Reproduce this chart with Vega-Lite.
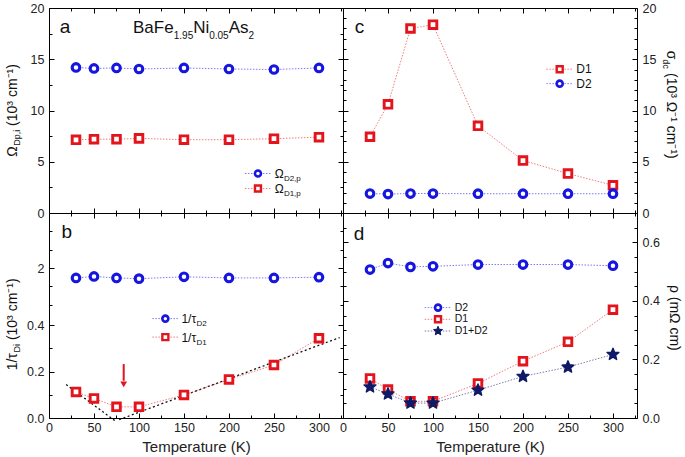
{
  "$schema": "https://vega.github.io/schema/vega-lite/v6.json",
  "background": "white",
  "padding": {"left": 5, "top": 1, "right": 5, "bottom": 3},
  "config": {
    "font": "Liberation Sans",
    "view": {"stroke": "#000", "strokeWidth": 1},
    "axis": {"domain": false, "grid": false, "labelFont": "Liberation Sans", "labelFontSize": 12.5, "labelColor": "#222", "tickColor": "#000", "tickWidth": 1, "labelFlush": false, "labelOverlap": false, "labelBound": false, "titleFont": "Liberation Sans", "titleFontWeight": "normal", "titleFontSize": 15, "titleColor": "#222"}
  },
  "datasets": {
    "omega": [
      {"T": 30, "series": "D2", "value": 14.2}, {"T": 50, "series": "D2", "value": 14.1}, {"T": 75, "series": "D2", "value": 14.15}, {"T": 100, "series": "D2", "value": 14.05},
      {"T": 150, "series": "D2", "value": 14.15}, {"T": 200, "series": "D2", "value": 14.05}, {"T": 250, "series": "D2", "value": 14.0}, {"T": 300, "series": "D2", "value": 14.15},
      {"T": 30, "series": "D1", "value": 7.14}, {"T": 50, "series": "D1", "value": 7.2}, {"T": 75, "series": "D1", "value": 7.2}, {"T": 100, "series": "D1", "value": 7.28},
      {"T": 150, "series": "D1", "value": 7.15}, {"T": 200, "series": "D1", "value": 7.15}, {"T": 250, "series": "D1", "value": 7.25}, {"T": 300, "series": "D1", "value": 7.4}
    ],
    "tau": [
      {"T": 30, "series": "D2", "value": 1.73}, {"T": 50, "series": "D2", "value": 1.77}, {"T": 75, "series": "D2", "value": 1.73}, {"T": 100, "series": "D2", "value": 1.71},
      {"T": 150, "series": "D2", "value": 1.76}, {"T": 200, "series": "D2", "value": 1.73}, {"T": 250, "series": "D2", "value": 1.73}, {"T": 300, "series": "D2", "value": 1.75},
      {"T": 30, "series": "D1", "value": 0.112}, {"T": 50, "series": "D1", "value": 0.084}, {"T": 75, "series": "D1", "value": 0.048}, {"T": 100, "series": "D1", "value": 0.048},
      {"T": 150, "series": "D1", "value": 0.099}, {"T": 200, "series": "D1", "value": 0.166}, {"T": 250, "series": "D1", "value": 0.228}, {"T": 300, "series": "D1", "value": 0.343}
    ],
    "sigma": [
      {"T": 30, "series": "D1", "value": 7.44}, {"T": 50, "series": "D1", "value": 10.6}, {"T": 75, "series": "D1", "value": 18.0}, {"T": 100, "series": "D1", "value": 18.37},
      {"T": 150, "series": "D1", "value": 8.51}, {"T": 200, "series": "D1", "value": 5.12}, {"T": 250, "series": "D1", "value": 3.85}, {"T": 300, "series": "D1", "value": 2.7},
      {"T": 30, "series": "D2", "value": 1.9}, {"T": 50, "series": "D2", "value": 1.85}, {"T": 75, "series": "D2", "value": 1.9}, {"T": 100, "series": "D2", "value": 1.9},
      {"T": 150, "series": "D2", "value": 1.88}, {"T": 200, "series": "D2", "value": 1.88}, {"T": 250, "series": "D2", "value": 1.88}, {"T": 300, "series": "D2", "value": 1.88}
    ],
    "rho": [
      {"T": 30, "series": "D2", "value": 0.507}, {"T": 50, "series": "D2", "value": 0.529}, {"T": 75, "series": "D2", "value": 0.516}, {"T": 100, "series": "D2", "value": 0.518},
      {"T": 150, "series": "D2", "value": 0.524}, {"T": 200, "series": "D2", "value": 0.524}, {"T": 250, "series": "D2", "value": 0.524}, {"T": 300, "series": "D2", "value": 0.52},
      {"T": 30, "series": "D1", "value": 0.135}, {"T": 50, "series": "D1", "value": 0.097}, {"T": 75, "series": "D1", "value": 0.057}, {"T": 100, "series": "D1", "value": 0.057},
      {"T": 150, "series": "D1", "value": 0.118}, {"T": 200, "series": "D1", "value": 0.194}, {"T": 250, "series": "D1", "value": 0.26}, {"T": 300, "series": "D1", "value": 0.37},
      {"T": 30, "series": "D1+D2", "value": 0.106}, {"T": 50, "series": "D1+D2", "value": 0.082}, {"T": 75, "series": "D1+D2", "value": 0.051}, {"T": 100, "series": "D1+D2", "value": 0.051},
      {"T": 150, "series": "D1+D2", "value": 0.095}, {"T": 200, "series": "D1+D2", "value": 0.142}, {"T": 250, "series": "D1+D2", "value": 0.174}, {"T": 300, "series": "D1+D2", "value": 0.217}
    ],
    "fit": [
      {"seg": "low", "T": 19, "value": 0.144}, {"seg": "low", "T": 73, "value": -0.011},
      {"seg": "high", "T": 78, "value": -0.007}, {"seg": "high", "T": 323, "value": 0.346}
    ],
    "arrow": [{"T": 83, "value": 0.232, "value2": 0.16}],
    "arrowhead": [{"T": 83, "value": 0.145}],
    "legA": [
      {"series": "D2", "T": 232.2, "T1": 217.7, "T2": 247.4, "value": 3.855},
      {"series": "D1", "T": 232.2, "T1": 217.7, "T2": 247.4, "value": 2.387}
    ],
    "legB": [
      {"series": "D2", "T": 129.3, "T1": 114.9, "T2": 143.3, "value": 0.4275},
      {"series": "D1", "T": 129.3, "T1": 114.9, "T2": 143.3, "value": 0.348}
    ],
    "legC": [
      {"series": "D1", "T": 240.8, "T1": 226, "T2": 255.6, "value": 14.03},
      {"series": "D2", "T": 240.8, "T1": 226, "T2": 255.6, "value": 12.62}
    ],
    "legD": [
      {"series": "D2", "T": 105.6, "T1": 90.8, "T2": 120.4, "value": 0.377},
      {"series": "D1", "T": 105.6, "T1": 90.8, "T2": 120.4, "value": 0.337},
      {"series": "D1+D2", "T": 105.6, "T1": 90.8, "T2": 120.4, "value": 0.297}
    ],
    "ann": [
      {"panel": "a", "kind": "tmain", "T": 93.3, "value": 17.6, "txt": "BaFe"},
      {"panel": "a", "kind": "tmain", "T": 160.2, "value": 17.6, "txt": "Ni"},
      {"panel": "a", "kind": "tmain", "T": 199.7, "value": 17.6, "txt": "As"},
      {"panel": "a", "kind": "tsub", "T": 138.6, "value": 16.97, "txt": "1.95"},
      {"panel": "a", "kind": "tsub", "T": 178, "value": 16.97, "txt": "0.05"},
      {"panel": "a", "kind": "tsub", "T": 221.7, "value": 16.97, "txt": "2"},
      {"panel": "a", "kind": "letter", "T": 11.9, "value": 17.6, "txt": "a"},
      {"panel": "a", "kind": "lmain", "T": 250.8, "value": 3.855, "txt": "Ω"},
      {"panel": "a", "kind": "lmain", "T": 250.8, "value": 2.387, "txt": "Ω"},
      {"panel": "a", "kind": "lsub", "T": 261, "value": 3.855, "txt": "D2,p"},
      {"panel": "a", "kind": "lsub", "T": 261, "value": 2.387, "txt": "D1,p"},
      {"panel": "a", "kind": "ymain", "T": -35.9, "value": 5.5, "txt": "Ω"},
      {"panel": "a", "kind": "ymain", "T": -35.9, "value": 8.5, "txt": "(10³ cm⁻¹)"},
      {"panel": "a", "kind": "ysub", "T": -32.6, "value": 6.56, "txt": "Dp,i"},
      {"panel": "b", "kind": "letter", "T": 13.8, "value": 2.82, "txt": "b"},
      {"panel": "b", "kind": "lmain", "T": 147.1, "value": 0.4275, "txt": "1/τ"},
      {"panel": "b", "kind": "lmain", "T": 147.1, "value": 0.348, "txt": "1/τ"},
      {"panel": "b", "kind": "lsub", "T": 164.0, "value": 0.4275, "txt": "D2"},
      {"panel": "b", "kind": "lsub", "T": 164.0, "value": 0.348, "txt": "D1"},
      {"panel": "b", "kind": "ymain", "T": -35.9, "value": 0.205, "txt": "1/τ"},
      {"panel": "b", "kind": "ymain", "T": -35.9, "value": 0.335, "txt": "(10³ cm⁻¹)"},
      {"panel": "b", "kind": "ysub", "T": -32.6, "value": 0.282, "txt": "Di"},
      {"panel": "c", "kind": "letter", "T": 13, "value": 17.6, "txt": "c"},
      {"panel": "c", "kind": "ltext", "T": 259.3, "value": 14.03, "txt": "D1"},
      {"panel": "c", "kind": "ltext", "T": 259.3, "value": 12.62, "txt": "D2"},
      {"panel": "c", "kind": "ymain", "T": 359.7, "value": 15.82, "txt": "σ"},
      {"panel": "c", "kind": "ymain", "T": 359.7, "value": 13.66, "txt": "(10³ Ω⁻¹ cm⁻¹)"},
      {"panel": "c", "kind": "ysub", "T": 356, "value": 15.0, "txt": "dc"},
      {"panel": "d", "kind": "letter", "T": 11.9, "value": 0.609, "txt": "d"},
      {"panel": "d", "kind": "ltext", "T": 124.1, "value": 0.377, "txt": "D2"},
      {"panel": "d", "kind": "ltext", "T": 124.1, "value": 0.337, "txt": "D1"},
      {"panel": "d", "kind": "ltext", "T": 124.1, "value": 0.297, "txt": "D1+D2"},
      {"panel": "d", "kind": "ycenter", "T": 363, "value": 0.342, "txt": "ρ (mΩ cm)"}
    ]
  },
  "columns": 2,
  "spacing": 0,
  "bounds": "flush",
  "concat": [
    {
      "width": 294, "height": 205,
      "encoding": {
        "x": {"field": "T", "type": "quantitative", "scale": {"domain": [0, 326.7], "nice": false, "zero": false}, "axis": null},
        "y": {"field": "value", "type": "quantitative", "scale": {"domain": [0, 20], "nice": false, "zero": false}, "axis": null}
      },
      "layer": [
        {"data": {"name": "omega"}, "mark": {"type": "line", "strokeWidth": 0.8, "strokeDash": [1.5, 1.5], "opacity": 0.7},
         "encoding": {
           "x": {"field": "T", "type": "quantitative", "scale": {"domain": [0, 326.7], "nice": false, "zero": false},
                 "axis": {"orient": "bottom", "values": [0,25,50,75,100,125,150,175,200,225,250,275,300,325], "labels": false, "title": null, "tickSize": {"condition": {"test": "datum.value % 50 == 0", "value": -5}, "value": -3}}},
           "y": {"field": "value", "type": "quantitative", "scale": {"domain": [0, 20], "nice": false, "zero": false},
                 "axis": {"orient": "left", "values": [0,2.5,5,7.5,10,12.5,15,17.5,20], "format": "d", "labelExpr": "datum.value % 5 == 0 ? datum.label : ''", "labelPadding": 10, "title": null, "tickSize": {"condition": {"test": "datum.value % 5 == 0", "value": -5}, "value": -3}}},
           "color": {"field": "series", "type": "nominal", "scale": {"domain": ["D1", "D2", "D1+D2"], "range": ["#e3141b", "#1616e0", "#0e1a66"]}, "legend": null}
         }},
        {"data": {"name": "omega"}, "transform": [{"filter": "datum.series == 'D1'"}],
         "mark": {"type": "point", "shape": "square", "filled": true, "fill": "white", "stroke": "#e3141b", "strokeWidth": 2.9, "size": 58, "opacity": 1}},
        {"data": {"name": "omega"}, "transform": [{"filter": "datum.series == 'D2'"}],
         "mark": {"type": "point", "shape": "circle", "filled": true, "fill": "white", "stroke": "#1616e0", "strokeWidth": 3.1, "size": 58, "opacity": 1},
         "encoding": {
           "x": {"field": "T", "type": "quantitative", "scale": {"domain": [0, 326.7], "nice": false, "zero": false},
                 "axis": {"orient": "top", "values": [0,25,50,75,100,125,150,175,200,225,250,275,300,325], "labels": false, "title": null, "tickSize": {"condition": {"test": "datum.value % 50 == 0", "value": -5}, "value": -3}}},
           "y": {"field": "value", "type": "quantitative", "scale": {"domain": [0, 20], "nice": false, "zero": false},
                 "axis": {"orient": "right", "values": [0,2.5,5,7.5,10,12.5,15,17.5,20], "labels": false, "title": null, "tickSize": {"condition": {"test": "datum.value % 5 == 0", "value": -5}, "value": -3}}}
         }},
        {"data": {"name": "legA"}, "mark": {"type": "rule", "strokeWidth": 0.8, "strokeDash": [1.5, 1.5], "opacity": 0.7},
         "encoding": {"x": {"field": "T1", "type": "quantitative", "scale": {"domain": [0, 326.7], "nice": false, "zero": false}, "axis": null}, "x2": {"field": "T2"},
                      "color": {"field": "series", "type": "nominal", "scale": {"domain": ["D1", "D2", "D1+D2"], "range": ["#e3141b", "#1616e0", "#0e1a66"]}, "legend": null}}},
        {"data": {"name": "legA"}, "transform": [{"filter": "datum.series == 'D1'"}],
         "mark": {"type": "point", "shape": "square", "filled": true, "fill": "white", "stroke": "#e3141b", "strokeWidth": 2.4, "size": 36, "opacity": 1}},
        {"data": {"name": "legA"}, "transform": [{"filter": "datum.series == 'D2'"}],
         "mark": {"type": "point", "shape": "circle", "filled": true, "fill": "white", "stroke": "#1616e0", "strokeWidth": 2.6, "size": 36, "opacity": 1}},
        {"data": {"name": "ann"}, "transform": [{"filter": "datum.panel == 'a' && datum.kind == 'tmain'"}],
         "mark": {"type": "text", "fontSize": 17, "align": "left", "baseline": "alphabetic", "color": "#111"}, "encoding": {"text": {"field": "txt"}}},
        {"data": {"name": "ann"}, "transform": [{"filter": "datum.panel == 'a' && datum.kind == 'tsub'"}],
         "mark": {"type": "text", "fontSize": 10, "align": "left", "baseline": "alphabetic", "color": "#111"}, "encoding": {"text": {"field": "txt"}}},
        {"data": {"name": "ann"}, "transform": [{"filter": "datum.panel == 'a' && datum.kind == 'letter'"}],
         "mark": {"type": "text", "fontSize": 19, "align": "left", "baseline": "alphabetic", "color": "#111"}, "encoding": {"text": {"field": "txt"}}},
        {"data": {"name": "ann"}, "transform": [{"filter": "datum.panel == 'a' && datum.kind == 'lmain'"}],
         "mark": {"type": "text", "fontSize": 12, "align": "left", "baseline": "alphabetic", "dy": 4.5, "color": "#111"}, "encoding": {"text": {"field": "txt"}}},
        {"data": {"name": "ann"}, "transform": [{"filter": "datum.panel == 'a' && datum.kind == 'lsub'"}],
         "mark": {"type": "text", "fontSize": 8, "align": "left", "baseline": "alphabetic", "dy": 7.5, "color": "#111"}, "encoding": {"text": {"field": "txt"}}},
        {"data": {"name": "ann"}, "transform": [{"filter": "datum.panel == 'a' && datum.kind == 'ymain'"}],
         "mark": {"type": "text", "fontSize": 14, "angle": 270, "align": "left", "baseline": "alphabetic", "color": "#111"}, "encoding": {"text": {"field": "txt"}}},
        {"data": {"name": "ann"}, "transform": [{"filter": "datum.panel == 'a' && datum.kind == 'ysub'"}],
         "mark": {"type": "text", "fontSize": 9, "angle": 270, "align": "left", "baseline": "alphabetic", "color": "#111"}, "encoding": {"text": {"field": "txt"}}}
      ],
      "resolve": {"axis": {"x": "independent", "y": "independent"}}
    },
    {
      "width": 294, "height": 205,
      "encoding": {
        "x": {"field": "T", "type": "quantitative", "scale": {"domain": [0, 326.7], "nice": false, "zero": false}, "axis": null},
        "y": {"field": "value", "type": "quantitative", "scale": {"domain": [0, 20], "nice": false, "zero": false}, "axis": null}
      },
      "layer": [
        {"data": {"name": "sigma"}, "mark": {"type": "line", "strokeWidth": 0.8, "strokeDash": [1.5, 1.5], "opacity": 0.7},
         "encoding": {
           "x": {"field": "T", "type": "quantitative", "scale": {"domain": [0, 326.7], "nice": false, "zero": false},
                 "axis": {"orient": "bottom", "values": [0,25,50,75,100,125,150,175,200,225,250,275,300,325], "labels": false, "title": null, "tickSize": {"condition": {"test": "datum.value % 50 == 0", "value": -5}, "value": -3}}},
           "y": {"field": "value", "type": "quantitative", "scale": {"domain": [0, 20], "nice": false, "zero": false},
                 "axis": {"orient": "right", "values": [0,1,2,3,4,5,6,7,8,9,10,11,12,13,14,15,16,17,18,19,20], "format": "d", "labelExpr": "datum.value % 5 == 0 ? datum.label : ''", "labelPadding": 10, "title": null, "tickSize": {"condition": {"test": "datum.value % 5 == 0", "value": -5}, "value": -3}}},
           "color": {"field": "series", "type": "nominal", "scale": {"domain": ["D1", "D2", "D1+D2"], "range": ["#e3141b", "#1616e0", "#0e1a66"]}, "legend": null}
         }},
        {"data": {"name": "sigma"}, "transform": [{"filter": "datum.series == 'D1'"}],
         "mark": {"type": "point", "shape": "square", "filled": true, "fill": "white", "stroke": "#e3141b", "strokeWidth": 2.9, "size": 58, "opacity": 1}},
        {"data": {"name": "sigma"}, "transform": [{"filter": "datum.series == 'D2'"}],
         "mark": {"type": "point", "shape": "circle", "filled": true, "fill": "white", "stroke": "#1616e0", "strokeWidth": 3.1, "size": 58, "opacity": 1},
         "encoding": {
           "x": {"field": "T", "type": "quantitative", "scale": {"domain": [0, 326.7], "nice": false, "zero": false},
                 "axis": {"orient": "top", "values": [0,25,50,75,100,125,150,175,200,225,250,275,300,325], "labels": false, "title": null, "tickSize": {"condition": {"test": "datum.value % 50 == 0", "value": -5}, "value": -3}}},
           "y": {"field": "value", "type": "quantitative", "scale": {"domain": [0, 20], "nice": false, "zero": false},
                 "axis": {"orient": "left", "values": [0,1,2,3,4,5,6,7,8,9,10,11,12,13,14,15,16,17,18,19,20], "labels": false, "title": null, "tickSize": {"condition": {"test": "datum.value % 5 == 0", "value": -5}, "value": -3}}}
         }},
        {"data": {"name": "legC"}, "mark": {"type": "rule", "strokeWidth": 0.8, "strokeDash": [1.5, 1.5], "opacity": 0.7},
         "encoding": {"x": {"field": "T1", "type": "quantitative", "scale": {"domain": [0, 326.7], "nice": false, "zero": false}, "axis": null}, "x2": {"field": "T2"},
                      "color": {"field": "series", "type": "nominal", "scale": {"domain": ["D1", "D2", "D1+D2"], "range": ["#e3141b", "#1616e0", "#0e1a66"]}, "legend": null}}},
        {"data": {"name": "legC"}, "transform": [{"filter": "datum.series == 'D1'"}],
         "mark": {"type": "point", "shape": "square", "filled": true, "fill": "white", "stroke": "#e3141b", "strokeWidth": 2.4, "size": 36, "opacity": 1}},
        {"data": {"name": "legC"}, "transform": [{"filter": "datum.series == 'D2'"}],
         "mark": {"type": "point", "shape": "circle", "filled": true, "fill": "white", "stroke": "#1616e0", "strokeWidth": 2.6, "size": 36, "opacity": 1}},
        {"data": {"name": "ann"}, "transform": [{"filter": "datum.panel == 'c' && datum.kind == 'letter'"}],
         "mark": {"type": "text", "fontSize": 19, "align": "left", "baseline": "alphabetic", "color": "#111"}, "encoding": {"text": {"field": "txt"}}},
        {"data": {"name": "ann"}, "transform": [{"filter": "datum.panel == 'c' && datum.kind == 'ltext'"}],
         "mark": {"type": "text", "fontSize": 12, "align": "left", "baseline": "middle", "color": "#111"}, "encoding": {"text": {"field": "txt"}}},
        {"data": {"name": "ann"}, "transform": [{"filter": "datum.panel == 'c' && datum.kind == 'ymain'"}],
         "mark": {"type": "text", "fontSize": 14, "angle": 90, "align": "left", "baseline": "alphabetic", "color": "#111"}, "encoding": {"text": {"field": "txt"}}},
        {"data": {"name": "ann"}, "transform": [{"filter": "datum.panel == 'c' && datum.kind == 'ysub'"}],
         "mark": {"type": "text", "fontSize": 9, "angle": 90, "align": "left", "baseline": "alphabetic", "color": "#111"}, "encoding": {"text": {"field": "txt"}}}
      ],
      "resolve": {"axis": {"x": "independent", "y": "independent"}}
    },
    {
      "width": 294, "height": 205,
      "encoding": {
        "x": {"field": "T", "type": "quantitative", "scale": {"domain": [0, 326.7], "nice": false, "zero": false}, "axis": null},
        "y": {"field": "value", "type": "quantitative", "scale": {"domain": [0, 0.44, 1.0, 3.5], "range": [205, 102.7, 91.7, 0], "nice": false, "zero": false}, "axis": null}
      },
      "layer": [
        {"data": {"name": "fit"}, "mark": {"type": "line", "color": "#111", "strokeWidth": 1.3, "strokeDash": [2, 2.5]},
         "encoding": {"detail": {"field": "seg"}}},
        {"data": {"name": "tau"}, "mark": {"type": "line", "strokeWidth": 0.8, "strokeDash": [1.5, 1.5], "opacity": 0.7},
         "encoding": {
           "x": {"field": "T", "type": "quantitative", "scale": {"domain": [0, 326.7], "nice": false, "zero": false},
                 "axis": {"orient": "bottom", "values": [0,25,50,75,100,125,150,175,200,225,250,275,300,325], "format": "d", "labelExpr": "datum.value % 50 == 0 ? datum.label : ''", "labelPadding": 8, "title": "Temperature (K)", "titlePadding": 4, "tickSize": {"condition": {"test": "datum.value % 50 == 0", "value": -5}, "value": -3}}},
           "y": {"field": "value", "type": "quantitative", "scale": {"domain": [0, 0.44, 1.0, 3.5], "range": [205, 102.7, 91.7, 0], "nice": false, "zero": false},
                 "axis": {"orient": "left", "values": [0,0.1,0.2,0.3,0.4,1,1.5,2,2.5,3], "labelExpr": "datum.value == 2 ? '2' : ((datum.value < 0.5 && round(datum.value*10) % 2 == 0) ? format(datum.value, '.1f') : '')", "labelPadding": 10, "title": null, "tickSize": {"condition": {"test": "datum.value == 2 || (datum.value < 0.5 && round(datum.value*10) % 2 == 0)", "value": -5}, "value": -3}}},
           "color": {"field": "series", "type": "nominal", "scale": {"domain": ["D1", "D2", "D1+D2"], "range": ["#e3141b", "#1616e0", "#0e1a66"]}, "legend": null}
         }},
        {"data": {"name": "tau"}, "transform": [{"filter": "datum.series == 'D1'"}],
         "mark": {"type": "point", "shape": "square", "filled": true, "fill": "white", "stroke": "#e3141b", "strokeWidth": 2.9, "size": 58, "opacity": 1}},
        {"data": {"name": "tau"}, "transform": [{"filter": "datum.series == 'D2'"}],
         "mark": {"type": "point", "shape": "circle", "filled": true, "fill": "white", "stroke": "#1616e0", "strokeWidth": 3.1, "size": 58, "opacity": 1},
         "encoding": {
           "x": {"field": "T", "type": "quantitative", "scale": {"domain": [0, 326.7], "nice": false, "zero": false},
                 "axis": {"orient": "top", "values": [0,25,50,75,100,125,150,175,200,225,250,275,300,325], "labels": false, "title": null, "tickSize": {"condition": {"test": "datum.value % 50 == 0", "value": -5}, "value": -3}}},
           "y": {"field": "value", "type": "quantitative", "scale": {"domain": [0, 0.44, 1.0, 3.5], "range": [205, 102.7, 91.7, 0], "nice": false, "zero": false},
                 "axis": {"orient": "right", "values": [0,0.1,0.2,0.3,0.4,1,1.5,2,2.5,3], "labels": false, "title": null, "tickSize": {"condition": {"test": "datum.value == 2 || (datum.value < 0.5 && round(datum.value*10) % 2 == 0)", "value": -5}, "value": -3}}}
         }},
        {"data": {"name": "arrow"}, "mark": {"type": "rule", "color": "#e3141b", "strokeWidth": 2},
         "encoding": {"y2": {"field": "value2"}}},
        {"data": {"name": "arrowhead"}, "mark": {"type": "point", "shape": "triangle-down", "filled": true, "color": "#e3141b", "size": 45, "opacity": 1}},
        {"data": {"name": "legB"}, "mark": {"type": "rule", "strokeWidth": 0.8, "strokeDash": [1.5, 1.5], "opacity": 0.7},
         "encoding": {"x": {"field": "T1", "type": "quantitative", "scale": {"domain": [0, 326.7], "nice": false, "zero": false}, "axis": null}, "x2": {"field": "T2"},
                      "color": {"field": "series", "type": "nominal", "scale": {"domain": ["D1", "D2", "D1+D2"], "range": ["#e3141b", "#1616e0", "#0e1a66"]}, "legend": null}}},
        {"data": {"name": "legB"}, "transform": [{"filter": "datum.series == 'D1'"}],
         "mark": {"type": "point", "shape": "square", "filled": true, "fill": "white", "stroke": "#e3141b", "strokeWidth": 2.4, "size": 36, "opacity": 1}},
        {"data": {"name": "legB"}, "transform": [{"filter": "datum.series == 'D2'"}],
         "mark": {"type": "point", "shape": "circle", "filled": true, "fill": "white", "stroke": "#1616e0", "strokeWidth": 2.6, "size": 36, "opacity": 1}},
        {"data": {"name": "ann"}, "transform": [{"filter": "datum.panel == 'b' && datum.kind == 'letter'"}],
         "mark": {"type": "text", "fontSize": 19, "align": "left", "baseline": "alphabetic", "color": "#111"}, "encoding": {"text": {"field": "txt"}}},
        {"data": {"name": "ann"}, "transform": [{"filter": "datum.panel == 'b' && datum.kind == 'lmain'"}],
         "mark": {"type": "text", "fontSize": 12, "align": "left", "baseline": "alphabetic", "dy": 4.5, "color": "#111"}, "encoding": {"text": {"field": "txt"}}},
        {"data": {"name": "ann"}, "transform": [{"filter": "datum.panel == 'b' && datum.kind == 'lsub'"}],
         "mark": {"type": "text", "fontSize": 8, "align": "left", "baseline": "alphabetic", "dy": 7.5, "color": "#111"}, "encoding": {"text": {"field": "txt"}}},
        {"data": {"name": "ann"}, "transform": [{"filter": "datum.panel == 'b' && datum.kind == 'ymain'"}],
         "mark": {"type": "text", "fontSize": 14, "angle": 270, "align": "left", "baseline": "alphabetic", "color": "#111"}, "encoding": {"text": {"field": "txt"}}},
        {"data": {"name": "ann"}, "transform": [{"filter": "datum.panel == 'b' && datum.kind == 'ysub'"}],
         "mark": {"type": "text", "fontSize": 9, "angle": 270, "align": "left", "baseline": "alphabetic", "color": "#111"}, "encoding": {"text": {"field": "txt"}}}
      ],
      "resolve": {"axis": {"x": "independent", "y": "independent"}}
    },
    {
      "width": 294, "height": 205,
      "encoding": {
        "x": {"field": "T", "type": "quantitative", "scale": {"domain": [0, 326.7], "nice": false, "zero": false}, "axis": null},
        "y": {"field": "value", "type": "quantitative", "scale": {"domain": [0, 0.7], "nice": false, "zero": false}, "axis": null}
      },
      "layer": [
        {"data": {"name": "rho"}, "mark": {"type": "line", "strokeWidth": 0.8, "strokeDash": [1.5, 1.5], "opacity": 0.7},
         "encoding": {
           "x": {"field": "T", "type": "quantitative", "scale": {"domain": [0, 326.7], "nice": false, "zero": false},
                 "axis": {"orient": "bottom", "values": [0,25,50,75,100,125,150,175,200,225,250,275,300,325], "format": "d", "labelExpr": "datum.value % 50 == 0 ? datum.label : ''", "labelPadding": 8, "title": "Temperature (K)", "titlePadding": 4, "tickSize": {"condition": {"test": "datum.value % 50 == 0", "value": -5}, "value": -3}}},
           "y": {"field": "value", "type": "quantitative", "scale": {"domain": [0, 0.7], "nice": false, "zero": false},
                 "axis": {"orient": "right", "values": [0,0.05,0.1,0.15,0.2,0.25,0.3,0.35,0.4,0.45,0.5,0.55,0.6,0.65,0.7], "format": ".1f", "labelExpr": "round(datum.value*100) % 20 == 0 ? datum.label : ''", "labelPadding": 10, "title": null, "tickSize": {"condition": {"test": "round(datum.value*100) % 20 == 0", "value": -5}, "value": -3}}},
           "color": {"field": "series", "type": "nominal", "scale": {"domain": ["D1", "D2", "D1+D2"], "range": ["#e3141b", "#1616e0", "#0e1a66"]}, "legend": null}
         }},
        {"data": {"name": "rho"}, "transform": [{"filter": "datum.series == 'D1'"}],
         "mark": {"type": "point", "shape": "square", "filled": true, "fill": "white", "stroke": "#e3141b", "strokeWidth": 2.9, "size": 58, "opacity": 1}},
        {"data": {"name": "rho"}, "transform": [{"filter": "datum.series == 'D2'"}],
         "mark": {"type": "point", "shape": "circle", "filled": true, "fill": "white", "stroke": "#1616e0", "strokeWidth": 3.1, "size": 58, "opacity": 1},
         "encoding": {
           "x": {"field": "T", "type": "quantitative", "scale": {"domain": [0, 326.7], "nice": false, "zero": false},
                 "axis": {"orient": "top", "values": [0,25,50,75,100,125,150,175,200,225,250,275,300,325], "labels": false, "title": null, "tickSize": {"condition": {"test": "datum.value % 50 == 0", "value": -5}, "value": -3}}},
           "y": {"field": "value", "type": "quantitative", "scale": {"domain": [0, 0.7], "nice": false, "zero": false},
                 "axis": {"orient": "left", "values": [0,0.05,0.1,0.15,0.2,0.25,0.3,0.35,0.4,0.45,0.5,0.55,0.6,0.65,0.7], "labels": false, "title": null, "tickSize": {"condition": {"test": "round(datum.value*100) % 20 == 0", "value": -5}, "value": -3}}}
         }},
        {"data": {"name": "rho"}, "transform": [{"filter": "datum.series == 'D1+D2'"}],
         "mark": {"type": "point", "shape": "M0,-1L0.265,-0.364L0.951,-0.309L0.428,0.139L0.588,0.809L0,0.45L-0.588,0.809L-0.428,0.139L-0.951,-0.309L-0.265,-0.364Z", "filled": true, "fill": "#0e1a66", "stroke": "#0e1a66", "strokeWidth": 1.4, "strokeJoin": "round", "size": 155, "opacity": 1}},
        {"data": {"name": "legD"}, "mark": {"type": "rule", "strokeWidth": 0.8, "strokeDash": [1.5, 1.5], "opacity": 0.7},
         "encoding": {"x": {"field": "T1", "type": "quantitative", "scale": {"domain": [0, 326.7], "nice": false, "zero": false}, "axis": null}, "x2": {"field": "T2"},
                      "color": {"field": "series", "type": "nominal", "scale": {"domain": ["D1", "D2", "D1+D2"], "range": ["#e3141b", "#1616e0", "#0e1a66"]}, "legend": null}}},
        {"data": {"name": "legD"}, "transform": [{"filter": "datum.series == 'D1'"}],
         "mark": {"type": "point", "shape": "square", "filled": true, "fill": "white", "stroke": "#e3141b", "strokeWidth": 2.4, "size": 36, "opacity": 1}},
        {"data": {"name": "legD"}, "transform": [{"filter": "datum.series == 'D2'"}],
         "mark": {"type": "point", "shape": "circle", "filled": true, "fill": "white", "stroke": "#1616e0", "strokeWidth": 2.6, "size": 36, "opacity": 1}},
        {"data": {"name": "legD"}, "transform": [{"filter": "datum.series == 'D1+D2'"}],
         "mark": {"type": "point", "shape": "M0,-1L0.265,-0.364L0.951,-0.309L0.428,0.139L0.588,0.809L0,0.45L-0.588,0.809L-0.428,0.139L-0.951,-0.309L-0.265,-0.364Z", "filled": true, "fill": "#0e1a66", "stroke": "#0e1a66", "strokeWidth": 1, "strokeJoin": "round", "size": 90, "opacity": 1}},
        {"data": {"name": "ann"}, "transform": [{"filter": "datum.panel == 'd' && datum.kind == 'letter'"}],
         "mark": {"type": "text", "fontSize": 19, "align": "left", "baseline": "alphabetic", "color": "#111"}, "encoding": {"text": {"field": "txt"}}},
        {"data": {"name": "ann"}, "transform": [{"filter": "datum.panel == 'd' && datum.kind == 'ltext'"}],
         "mark": {"type": "text", "fontSize": 10.5, "align": "left", "baseline": "middle", "color": "#111"}, "encoding": {"text": {"field": "txt"}}},
        {"data": {"name": "ann"}, "transform": [{"filter": "datum.panel == 'd' && datum.kind == 'ycenter'"}],
         "mark": {"type": "text", "fontSize": 14, "angle": 90, "align": "center", "baseline": "alphabetic", "color": "#111"}, "encoding": {"text": {"field": "txt"}}}
      ],
      "resolve": {"axis": {"x": "independent", "y": "independent"}}
    }
  ]
}
